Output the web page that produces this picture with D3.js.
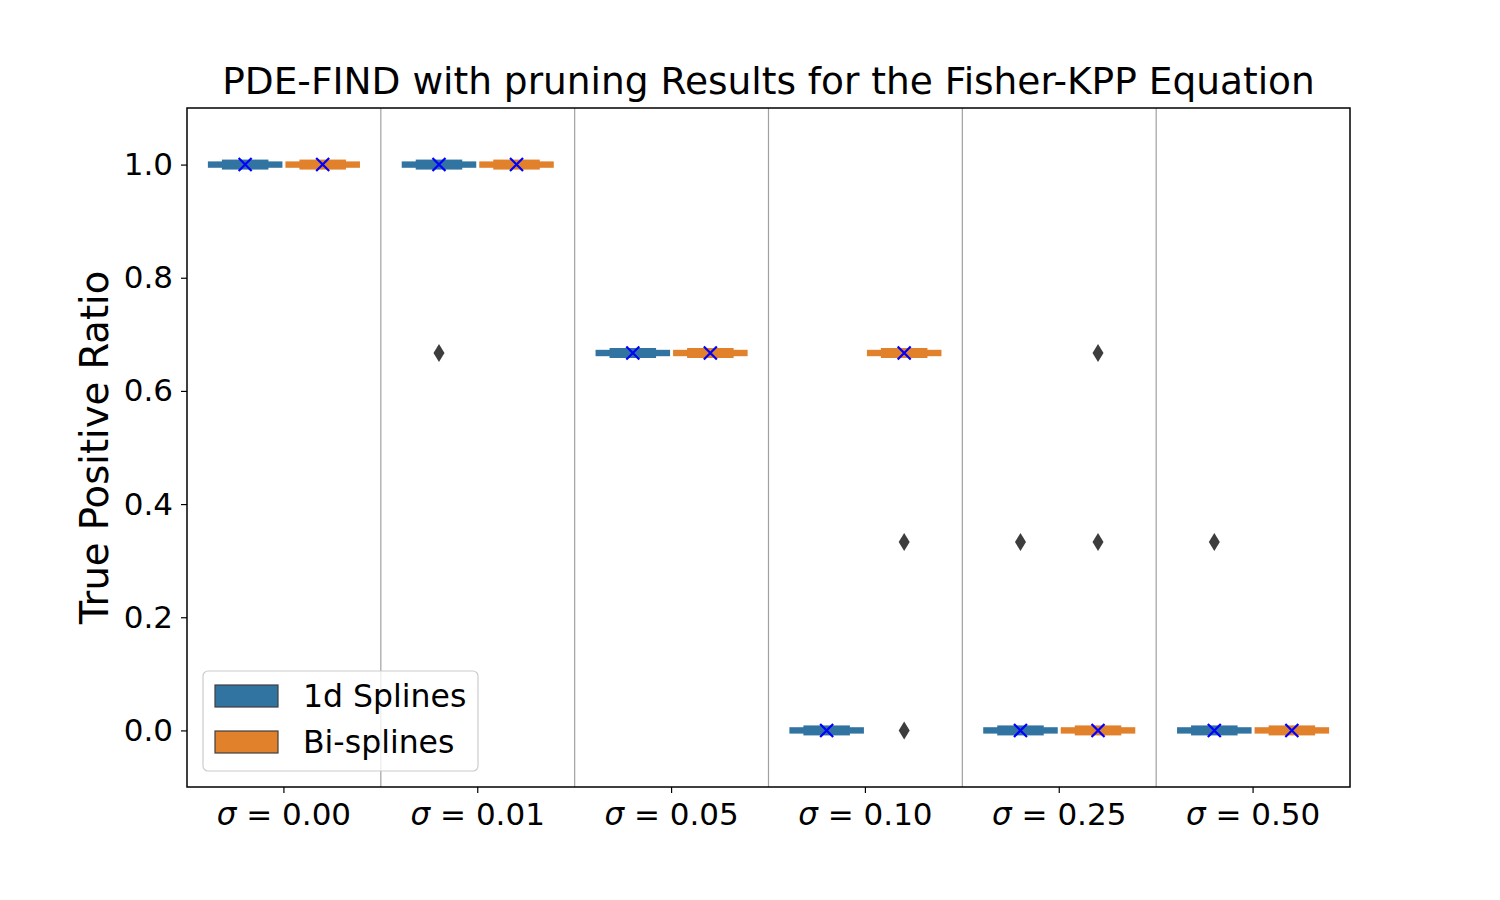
<!DOCTYPE html>
<meta charset="utf-8">
<style>
body { margin: 0; background: #fff; }
text { font-family: "DejaVu Sans", sans-serif; }
</style>
<svg width="1500" height="900"></svg>
<script src="https://d3js.org/d3.v7.min.js"></script>
<script>

// categories and series
var sigmas = ["0.00", "0.01", "0.05", "0.10", "0.25", "0.50"];
var series = ["1d Splines", "Bi-splines"];
var colors = ["#3274a1", "#e1812c"];

// box level (all quartiles collapse to this) per sigma
var splines1dBox = [1.0, 1.0, 0.667, 0.0, 0.0, 0.0];
var bisplinesBox = [1.0, 1.0, 0.667, 0.667, 0.0, 0.0];

// means (blue x)
var splines1dMean = [1.0, 1.0, 0.667, 0.0, 0.0, 0.0];
var bisplinesMean = [1.0, 1.0, 0.667, 0.667, 0.0, 0.0];

// outliers
var splines1dOut = [[], [0.667], [], [], [0.333], [0.333]];
var bisplinesOut = [[], [], [], [0.333, 0.0], [0.667, 0.333], []];

var yTicks = [0.0, 0.2, 0.4, 0.6, 0.8, 1.0];

var svg = d3.select("svg");
var margin = {left: 187, right: 150, top: 108, bottom: 113};
var width = 1500 - margin.left - margin.right,
    height = 900 - margin.top - margin.bottom;

var g = svg.append("g").attr("transform", "translate(" + margin.left + "," + margin.top + ")");

var x = d3.scaleBand().domain(sigmas).range([0, width]).paddingInner(0).paddingOuter(0);
var hue = d3.scaleBand().domain(series).range([0, x.bandwidth() * 0.8]);
var y = d3.scaleLinear().domain([-0.1, 1.1]).range([height, 0]);

// separators between groups
g.selectAll("line.sep")
  .data(sigmas.slice(1))
  .enter().append("line")
    .attr("class", "sep")
    .attr("x1", function(d) { return x(d); })
    .attr("x2", function(d) { return x(d); })
    .attr("y1", 0).attr("y2", height)
    .attr("stroke", "#a0a0a0").attr("stroke-width", 1.2);

var groups = [
  {box: splines1dBox, mean: splines1dMean, out: splines1dOut, s: 0},
  {box: bisplinesBox, mean: bisplinesMean, out: bisplinesOut, s: 1}
];

groups.forEach(function(grp) {
  var col = colors[grp.s];
  sigmas.forEach(function(sig, i) {
    var x0 = x(sig) + x.bandwidth() * 0.1 + hue(series[grp.s]);
    var bw = hue.bandwidth();
    var cx = x0 + bw / 2;
    var cy = y(grp.box[i]);
    var inset = 1.5;
    // flattened box
    g.append("rect")
      .attr("x", x0 + inset).attr("width", bw - 2 * inset)
      .attr("y", cy - 3.2).attr("height", 6.4)
      .attr("fill", col);
    // caps / whisker thick centre
    g.append("rect")
      .attr("x", cx - bw * 0.3).attr("width", bw * 0.6)
      .attr("y", cy - 5).attr("height", 10)
      .attr("fill", col);
    // outliers
    grp.out[i].forEach(function(v) {
      var oy = y(v);
      g.append("path")
        .attr("d", "M" + cx + "," + (oy - 9) + "L" + (cx + 5.5) + "," + oy +
                   "L" + cx + "," + (oy + 9) + "L" + (cx - 5.5) + "," + oy + "Z")
        .attr("fill", "#3d3d3d");
    });
    // mean marker
    var my = y(grp.mean[i]), r = 6.5;
    g.append("path")
      .attr("d", "M" + (cx - r) + "," + (my - r) + "L" + (cx + r) + "," + (my + r) +
                 "M" + (cx - r) + "," + (my + r) + "L" + (cx + r) + "," + (my - r))
      .attr("stroke", "#0000ff").attr("stroke-width", 2.2).attr("fill", "none");
  });
});

// axes
var yAxis = g.append("g")
  .call(d3.axisLeft(y).tickValues(yTicks).tickFormat(d3.format(".1f")).tickSize(6).tickPadding(8));
yAxis.select(".domain").remove();
yAxis.selectAll("text").style("font-size", "31px").attr("fill", "#000");
yAxis.selectAll("line").attr("stroke", "#000").attr("stroke-width", 1.2);

var xAxis = g.append("g")
  .attr("transform", "translate(0," + height + ")")
  .call(d3.axisBottom(x).tickSize(6).tickPadding(10).tickFormat(function() { return ""; }));
xAxis.select(".domain").remove();
xAxis.selectAll("line").attr("stroke", "#000").attr("stroke-width", 1.2);
xAxis.selectAll(".tick text").each(function(d) {
  var t = d3.select(this).attr("fill", "#000").style("font-size", "31px");
  t.append("tspan").style("font-style", "italic").text("\u03C3");
  t.append("tspan").text(" = " + d);
});

// frame
g.append("rect").attr("width", width).attr("height", height)
  .attr("fill", "none").attr("stroke", "#000").attr("stroke-width", 1.5);

// title
svg.append("text")
  .attr("x", margin.left + width / 2).attr("y", 94)
  .attr("text-anchor", "middle").style("font-size", "37.5px")
  .text("PDE-FIND with pruning Results for the Fisher-KPP Equation");

// y label
svg.append("text")
  .attr("transform", "translate(108," + (margin.top + height / 2) + ") rotate(-90)")
  .attr("text-anchor", "middle").style("font-size", "38.5px")
  .text("True Positive Ratio");

// legend
var lg = g.append("g").attr("transform", "translate(16," + (height - 116) + ")");
lg.append("rect").attr("width", 275).attr("height", 100).attr("rx", 5)
  .attr("fill", "#fff").attr("fill-opacity", 0.8).attr("stroke", "#cccccc").attr("stroke-width", 1.2);
series.forEach(function(s, i) {
  lg.append("rect").attr("x", 12).attr("y", 14 + i * 46).attr("width", 63).attr("height", 22)
    .attr("fill", colors[i]).attr("stroke", "#3f3f3f").attr("stroke-width", 1.2);
  lg.append("text").attr("x", 100).attr("y", 36 + i * 46)
    .style("font-size", "31.5px").text(s);
});

</script>
